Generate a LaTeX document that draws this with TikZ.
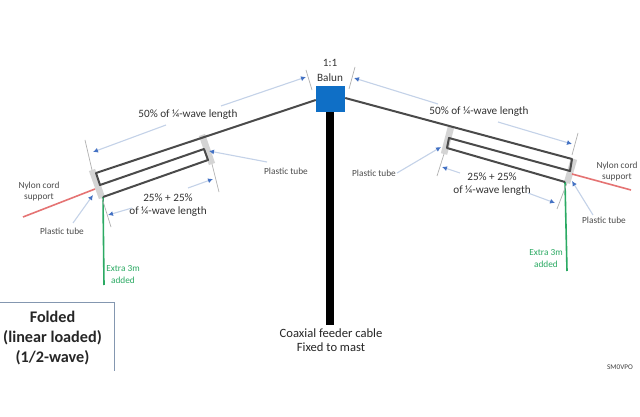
\documentclass[tikz,border=0pt]{standalone}
\usepackage{fontspec}
\setmainfont{Carlito}
\usetikzlibrary{arrows.meta}
\definecolor{wirecol}{HTML}{4A4A4A}
\definecolor{tubecol}{HTML}{D4D4D4}
\definecolor{dimline}{HTML}{C4D2E8}
\definecolor{dimhead}{HTML}{4472C4}
\definecolor{tickcol}{HTML}{B0B0B0}
\definecolor{balunblue}{HTML}{0F6FC6}
\definecolor{nylonred}{HTML}{E57373}
\definecolor{extragreen}{HTML}{2BAA63}
\definecolor{boxline}{HTML}{8497B0}
\tikzset{
  wire/.style={draw=wirecol,line width=2pt,line join=round},
  tube/.style={draw=tubecol,line width=6.5pt},
  tick/.style={draw=tickcol,line width=0.7pt},
  dimarrow/.style={draw=dimline,line width=1.1pt,-{Latex[color=dimhead,length=5pt,width=5pt]}},
  big/.style={font=\fontsize{11.2}{13}\selectfont,text=black!80,inner sep=0pt},
  bigger/.style={font=\fontsize{12.6}{14}\selectfont,text=black!85,inner sep=0pt},
  small/.style={font=\fontsize{9.3}{11}\selectfont,text=black!70,inner sep=0pt},
  green label/.style={font=\fontsize{9.3}{11}\selectfont,text=extragreen,inner sep=0pt},
  title/.style={font=\fontsize{16.2}{20}\selectfont\bfseries,text=black!85,align=center,inner sep=0pt}
}
\begin{document}
\begin{tikzpicture}[x=1pt,y=-1pt]
\useasboundingbox (0,0) rectangle (640,417);
\fill[white] (0,0) rectangle (640,417);
% left arm points
\coordinate (LA) at (96,173); \coordinate (LB) at (100,185);
\coordinate (LC) at (204,149); \coordinate (LD) at (208,160);
\coordinate (LE) at (103,197);
% right arm points
\coordinate (RA) at (572,159); \coordinate (RB) at (570,171);
\coordinate (RC) at (449,138); \coordinate (RD) at (447,148);
\coordinate (RE) at (565,182);
% tubes
\draw[tube] (92,170) coordinate (lt1a) -- (102,198) coordinate (lt1b);
\draw[tube] (202,135) coordinate (lt2a) -- (212,164) coordinate (lt2b);
\draw[tube] (451,127) coordinate (rt1a) -- (444,154) coordinate (rt1b);
\draw[tube] (574,159) coordinate (rt2a) -- (567,183) coordinate (rt2b);
% nylon and extra wires
\coordinate (LN) at (23,217); \coordinate (LNe) at (95,189);
\coordinate (RN) at (631,190); \coordinate (RNe) at (572,174);
\coordinate (LG) at (104,285); \coordinate (RG) at (567,271);
\draw[nylonred,line width=1.6pt] (LN) -- (LNe);
\draw[nylonred,line width=1.6pt] (RN) -- (RNe);
\draw[extragreen,line width=1.6pt] (LE) -- (LG);
\draw[extragreen,line width=1.6pt] (RE) -- (RG);
% mast and balun
\node[draw=none,fill=balunblue,minimum width=29pt,minimum height=26pt,inner sep=0pt] (balun) at (330.5,99) {};
\coordinate (mastend) at (330,325);
\draw[black,line width=8pt] (balun.south -| mastend) -- (mastend);
% wires
\draw[wire] (balun.west |- 0,100) -- (LA) -- (LB) -- (LC) -- (LD) -- (LE);
\draw[wire] (balun.east |- 0,98) -- (RA) -- (RB) -- (RC) -- (RD) -- (RE);
% ticks
\draw[tick] (85,140) coordinate (t1) -- (lt1a);
\draw[tick] (306,70) coordinate (t2a) -- (312,90) coordinate (t2b);
\draw[tick] (lt2b) -- (219,192) coordinate (t3);
\draw[tick] (lt1b) -- (111,227) coordinate (t4);
\draw[tick] (355,67) coordinate (t5a) -- (349,89) coordinate (t5b);
\draw[tick] (578,133) coordinate (t6) -- (572,155) coordinate (t6b);
\draw[tick] (rt1b) -- (437,176) coordinate (t7);
\draw[tick] (rt2b) -- (557,209) coordinate (t8);
% labels
\node[big] (l50) at (188,115) {50\% of ¼-wave length};
\node[big] (l25a) at (168,198) {25\% + 25\%};
\node[big] (l25b) at (168,212) {of ¼-wave length};
\node[big] (r50) at (479,112) {50\% of ¼-wave length};
\node[big] (r25a) at (492,177) {25\% + 25\%};
\node[big] (r25b) at (492,191) {of ¼-wave length};
\node[big] (one) at (330,63) {1:1};
\node[big] (balunlabel) at (330,78) {Balun};
\node[bigger] (coax) at (331,333) {Coaxial feeder cable};
\node[bigger] (fixed) at (331,347) {Fixed to mast};
\node[small] (ptr) at (286,171) {Plastic tube};
\node[small] (ptl) at (62,231) {Plastic tube};
\node[small] (ptrl) at (374,173) {Plastic tube};
\node[small] (ptrr) at (604,220) {Plastic tube};
\node[small] (nl1) at (39,186) {Nylon cord};
\node[small] (nl2) at (39,197) {support};
\node[small] (nr1) at (617,166) {Nylon cord};
\node[small] (nr2) at (617,177) {support};
\node[green label] (el1) at (123,269) {Extra 3m};
\node[green label] (el2) at (123,280) {added};
\node[green label] (er1) at (546,253) {Extra 3m};
\node[green label] (er2) at (546,264) {added};
\node[font=\fontsize{7.2}{8}\selectfont,text=black!75,inner sep=0pt] (sm) at (620,367) {SM0VPO};
% dimension arrows
\coordinate (a1s) at (166,125); \coordinate (a1e) at (93,152);
\coordinate (a2s) at (221,106); \coordinate (a2e) at (306,77);
\coordinate (a3s) at (188,188); \coordinate (a3e) at (213,179);
\coordinate (a4s) at (132,208); \coordinate (a4e) at (108,215);
\coordinate (a5s) at (267,162); \coordinate (a5e) at (209,151);
\coordinate (a6s) at (73,223);  \coordinate (a6e) at (93,195);
\coordinate (b1s) at (438,104); \coordinate (b1e) at (354,78);
\coordinate (b2s) at (498,122); \coordinate (b2e) at (572,144);
\coordinate (b3s) at (460,173); \coordinate (b3e) at (442,167);
\coordinate (b4s) at (528,193); \coordinate (b4e) at (555,203);
\coordinate (b5s) at (397,173); \coordinate (b5e) at (441,147);
\coordinate (b6s) at (593,215); \coordinate (b6e) at (572,181);
\foreach \n in {a1,a2,a3,a4,a5,a6,b1,b2,b3,b4,b5,b6}
  \draw[dimarrow] (\n s) -- (\n e);
% title box
\coordinate (boxtl) at (0,302); \coordinate (boxtr) at (114,302); \coordinate (boxbr) at (114,371);
\draw[boxline,line width=1pt] (boxtl) -- (boxtr) -- (boxbr);
\node[title] (title) at (52.5,338) {Folded\\(linear loaded)\\(1/2-wave)};
\end{tikzpicture}
\end{document}
